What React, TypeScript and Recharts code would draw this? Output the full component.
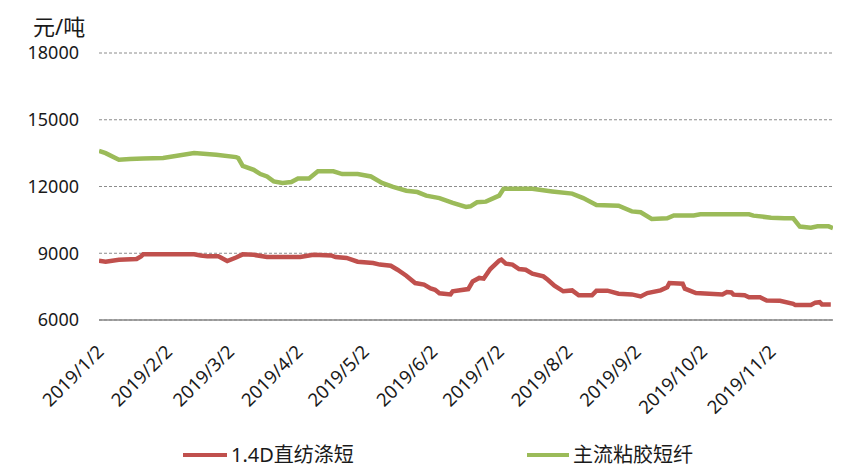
import { LineChart, Line, XAxis, YAxis, CartesianGrid } from 'recharts';

// 主流粘胶短纤 (green)
const viscoseDates = [
  '1/2', '1/5', '1/11', '1/16', '1/22', '1/31', '2/14', '2/24', '3/5', '3/6', '3/8', '3/13',
  '3/16', '3/19', '3/22', '3/26', '3/30', '4/2', '4/7', '4/11', '4/18', '4/22', '4/29', '5/5',
  '5/10', '5/15', '5/21', '5/26', '5/30', '6/5', '6/11', '6/17', '6/19', '6/22', '6/26', '7/2',
  '7/4', '7/17', '7/26', '8/4', '8/9', '8/15', '8/25', '8/31', '9/4', '9/9', '9/16', '9/19',
  '9/28', '10/1', '10/23', '10/25', '11/2', '11/8', '11/12', '11/15', '11/20', '11/23', '11/28', '11/30',
];
const viscoseValues = [
  13600, 13500, 13200, 13240, 13260, 13280, 13500, 13430, 13320, 13280, 12930, 12750,
  12560, 12450, 12230, 12160, 12200, 12360, 12360, 12680, 12680, 12560, 12560, 12450,
  12160, 11980, 11810, 11750, 11590, 11480, 11260, 11080, 11110, 11290, 11320, 11590,
  11900, 11900, 11780, 11680, 11480, 11170, 11140, 10880, 10840, 10540, 10570, 10700,
  10700, 10750, 10750, 10690, 10600, 10570, 10570, 10200, 10150, 10210, 10210, 10130,
];

// 1.4D直纺涤短 (red)
const polyDates = [
  '1/2', '1/5', '1/11', '1/19', '1/21', '1/22', '2/14', '2/17', '2/20', '2/25', '3/1', '3/5',
  '3/8', '3/13', '3/19', '4/3', '4/9', '4/17', '4/19', '4/24', '4/29', '5/6', '5/9', '5/14',
  '5/17', '5/21', '5/25', '5/29', '6/1', '6/3', '6/5', '6/10', '6/11', '6/18', '6/20', '6/23',
  '6/25', '6/28', '7/2', '7/3', '7/5', '7/8', '7/11', '7/14', '7/17', '7/22', '7/24', '7/27',
  '7/31', '8/4', '8/7', '8/13', '8/15', '8/20', '8/25', '8/31', '9/4', '9/7', '9/13', '9/16',
  '9/17', '9/23', '9/24', '9/29', '10/11', '10/13', '10/15', '10/16', '10/21', '10/23', '10/28', '10/31',
  '11/6', '11/12', '11/13', '11/20', '11/22', '11/24', '11/25', '11/29',
];
const polyValues = [
  8660, 8620, 8710, 8740, 8860, 8950, 8950, 8900, 8860, 8860, 8650, 8810,
  8950, 8930, 8830, 8830, 8930, 8900, 8830, 8790, 8620, 8560, 8490, 8440,
  8260, 7990, 7660, 7590, 7420, 7360, 7200, 7150, 7290, 7390, 7730, 7890,
  7860, 8290, 8670, 8710, 8530, 8490, 8290, 8260, 8080, 7960, 7810, 7540,
  7290, 7330, 7110, 7110, 7320, 7320, 7180, 7150, 7060, 7210, 7330, 7470,
  7660, 7630, 7410, 7210, 7150, 7260, 7240, 7140, 7110, 7020, 7020, 6880,
  6860, 6730, 6670, 6670, 6780, 6800, 6700, 6700,
];

const monthTicks = ['1/2', '2/2', '3/2', '4/2', '5/2', '6/2', '7/2', '8/2', '9/2', '10/2', '11/2'];
const yTicks = [6000, 9000, 12000, 15000, 18000];

const FONT = "'Noto Sans', 'Noto Sans CJK SC', sans-serif";
const RED = '#c0504d';
const GREEN = '#9bbb59';

const toDay = (md: string) => {
  const [m, d] = md.split('/').map(Number);
  return (Date.UTC(2019, m - 1, d) - Date.UTC(2019, 0, 2)) / 86400000;
};

const viscoseData = viscoseDates.map((d, i) => ({ day: toDay(d), value: viscoseValues[i] }));
const polyData = polyDates.map((d, i) => ({ day: toDay(d), value: polyValues[i] }));
const tickDays = monthTicks.map(toDay);
const labelByDay: Record<number, string> = {};
monthTicks.forEach(t => { labelByDay[toDay(t)] = `2019/${t}`; });

const DateTick = ({ x, y, payload }: any) => {
  const ax = x + 6;
  const ay = y + 25;
  return (
    <text
      x={ax}
      y={ay}
      transform={`rotate(-45, ${ax}, ${ay})`}
      textAnchor="end"
      fontSize={18.5}
      fontFamily={FONT}
      fill="#1a1a1a"
    >
      {labelByDay[payload.value]}
    </text>
  );
};

const legendItem = { position: 'absolute' as const, top: 445, display: 'flex', alignItems: 'center', fontSize: 20, lineHeight: '20px', color: '#1a1a1a', whiteSpace: 'nowrap' as const };

export default function App() {
  // shifted by the body margin so chart coordinates equal page coordinates
  return (
    <div style={{ position: 'relative', left: -8, top: -8, width: 867, height: 460, fontFamily: FONT }}>
      <div style={{ position: 'absolute', left: 33, top: 12, fontSize: 22, lineHeight: '28px', color: '#1a1a1a' }}>元/吨</div>

      <div style={{ position: 'absolute', left: 0, top: 0 }}>
        <LineChart width={867} height={468} margin={{ top: 53, right: 34, bottom: 58, left: 0 }}>
          <CartesianGrid horizontal vertical={false} stroke="#8c8c8c" strokeDasharray="3 2" />
          <XAxis
            type="number"
            dataKey="day"
            domain={[0, 332]}
            ticks={tickDays}
            interval={0}
            tick={<DateTick />}
            tickLine={false}
            axisLine={{ stroke: '#898989', strokeWidth: 1.5 }}
            height={90}
            allowDataOverflow
          />
          <YAxis
            type="number"
            domain={[6000, 18000]}
            ticks={yTicks}
            interval={0}
            width={99}
            axisLine={false}
            tickLine={false}
            tickSize={10}
            tickMargin={10}
            tick={{ fontSize: 18, fontFamily: FONT, fill: '#1a1a1a' }}
          />
          <Line
            data={polyData}
            dataKey="value"
            name="1.4D直纺涤短"
            type="linear"
            stroke={RED}
            strokeWidth={4.5}
            dot={false}
            isAnimationActive={false}
          />
          <Line
            data={viscoseData}
            dataKey="value"
            name="主流粘胶短纤"
            type="linear"
            stroke={GREEN}
            strokeWidth={4.5}
            dot={false}
            isAnimationActive={false}
          />
        </LineChart>
      </div>

      <div style={{ ...legendItem, left: 183 }}>
        <span style={{ display: 'inline-block', width: 44, height: 4, background: RED, marginRight: 4 }} />
        <span>1.4D直纺涤短</span>
      </div>
      <div style={{ ...legendItem, left: 527 }}>
        <span style={{ display: 'inline-block', width: 42, height: 4, background: GREEN, marginRight: 4 }} />
        <span>主流粘胶短纤</span>
      </div>
    </div>
  );
}
